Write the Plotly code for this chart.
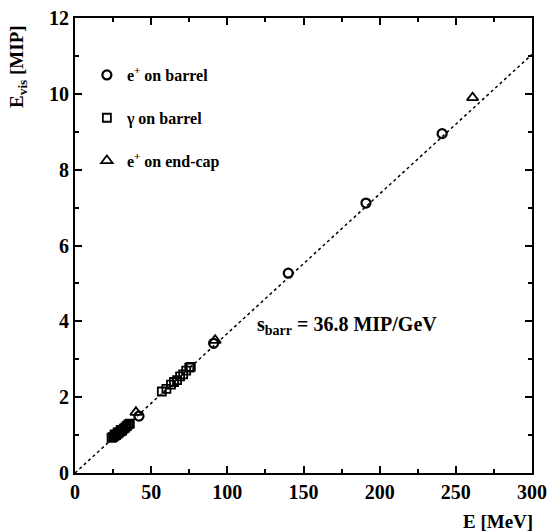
import plotly.graph_objects as go

# Data
e_barrel_E = [42, 91, 140, 191, 241]
e_barrel_V = [1.50, 3.42, 5.27, 7.12, 8.95]

gamma_E = [24, 25, 26, 26, 27, 28, 28, 29, 30, 30, 31, 32, 33, 34, 35, 36,
           57, 60, 63, 65, 67, 69, 71, 73, 75, 76]
gamma_V = [0.93, 0.95, 0.98, 1.02, 1.00, 1.03, 1.07, 1.07, 1.10, 1.14, 1.12, 1.17, 1.20, 1.24, 1.28, 1.30,
           2.15, 2.22, 2.33, 2.40, 2.45, 2.55, 2.60, 2.70, 2.78, 2.80]

endcap_E = [40, 92, 261]
endcap_V = [1.60, 3.50, 9.90]

slope = 36.8  # MIP/GeV
fit_E = [0, 300]
fit_V = [e * slope / 1000 for e in fit_E]

FONT = "Liberation Serif"

fig = go.Figure()
fig.add_trace(go.Scatter(x=fit_E, y=fit_V, mode="lines",
                         line=dict(color="black", width=1.5, dash="dot"),
                         showlegend=False, hoverinfo="skip"))
fig.add_trace(go.Scatter(x=gamma_E, y=gamma_V, mode="markers",
                         marker=dict(symbol="square-open", size=8, color="black",
                                     line=dict(width=1.8, color="black")),
                         name="γ on barrel", legendgroup="b", legendrank=2))
fig.add_trace(go.Scatter(x=e_barrel_E, y=e_barrel_V, mode="markers",
                         marker=dict(symbol="circle-open", size=9, color="black",
                                     line=dict(width=2.2, color="black")),
                         name="e<sup>+</sup> on barrel", legendgroup="a", legendrank=1))
fig.add_trace(go.Scatter(x=endcap_E, y=endcap_V, mode="markers",
                         marker=dict(symbol="triangle-up-open", size=10, color="black",
                                     line=dict(width=1.8, color="black")),
                         name="e<sup>+</sup> on end-cap", legendgroup="c", legendrank=3))

axis_common = dict(showline=True, linecolor="black", linewidth=2, mirror="ticks",
                   ticks="inside", ticklen=7, tickwidth=1.5, tickcolor="black",
                   showgrid=False, zeroline=False, automargin=False,
                   tickfont=dict(family=FONT, size=20, color="black", weight="bold"))

fig.update_xaxes(range=[0, 300], dtick=50,
                 minor=dict(dtick=25, ticks="inside", ticklen=4, tickcolor="black"),
                 **axis_common)
fig.update_yaxes(range=[0, 12], dtick=2,
                 minor=dict(dtick=1, ticks="inside", ticklen=4, tickcolor="black"),
                 **axis_common)

fig.update_layout(
    width=547, height=532,
    margin=dict(l=75, r=15, t=18, b=59),
    plot_bgcolor="white", paper_bgcolor="white",
    legend=dict(x=0.026, y=0.912, xanchor="left", yanchor="top",
                font=dict(family=FONT, size=16, color="black", weight="bold"),
                tracegroupgap=19, bgcolor="rgba(0,0,0,0)", itemwidth=30,
                traceorder="grouped"),
    annotations=[
        dict(text="E [MeV]", xref="paper", yref="paper", x=1.007, y=-0.08,
             xanchor="right", yanchor="top", showarrow=False,
             font=dict(family=FONT, size=19, color="black", weight="bold")),
        dict(text="E<sub>vis</sub> [MIP]", xref="paper", yref="paper", x=-0.125, y=0.99,
             xanchor="center", yanchor="top", textangle=-90, showarrow=False,
             font=dict(family=FONT, size=19, color="black", weight="bold")),
        dict(text="s<sub>barr</sub> = 36.8 MIP/GeV", xref="x", yref="y", x=118, y=3.9,
             xanchor="left", yanchor="middle", showarrow=False,
             font=dict(family=FONT, size=20, color="black", weight="bold")),
    ],
)

fig.write_html("out.html", config={"displayModeBar": False},
               post_script="document.body.style.margin='0';")
